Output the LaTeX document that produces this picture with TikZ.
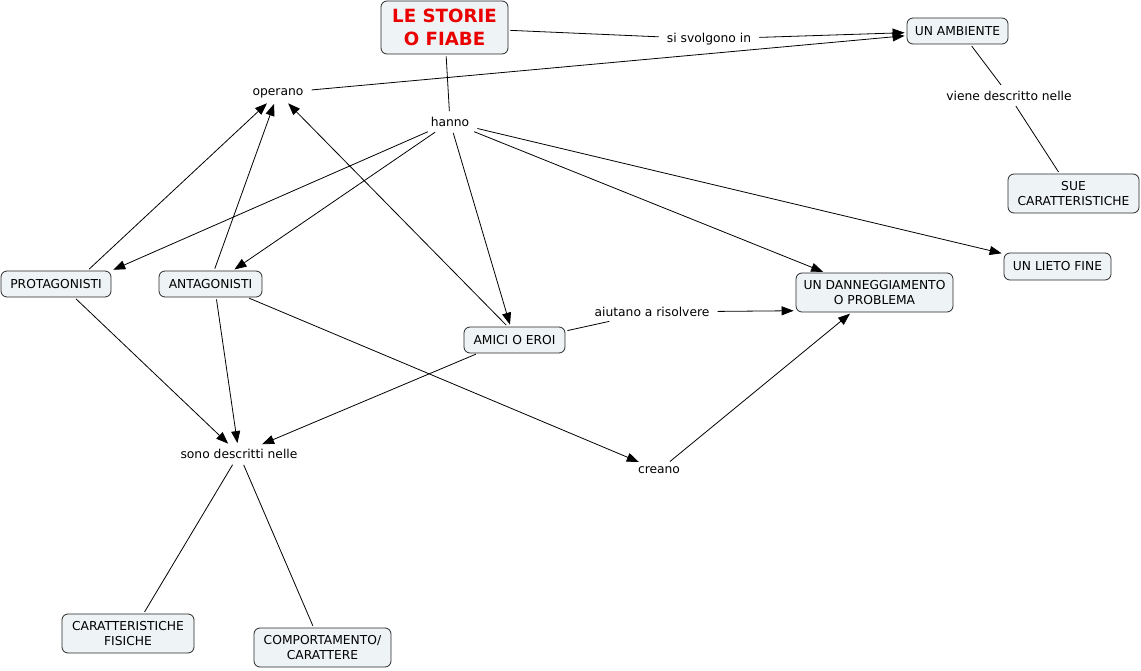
\documentclass[tikz,border=0pt]{standalone}
\usepackage{fontspec}
\setmainfont{DejaVu Sans}
\usetikzlibrary{arrows.meta}
\definecolor{boxfill}{RGB}{238,243,246}
\definecolor{titlered}{RGB}{235,0,0}
\definecolor{edge}{RGB}{40,40,40}
\begin{document}
\begin{tikzpicture}[x=1pt,y=-1pt,
  font=\fontsize{12.3}{15}\selectfont,
  concept/.style={draw=edge, fill=boxfill, rounded corners=6pt, line width=0.8pt, align=center, inner sep=0pt},
  lbl/.style={inner xsep=6pt, inner ysep=4pt, align=center},
  con/.style={line width=0.8pt, draw=black, shorten <=2pt, shorten >=2pt},
  arr/.style={con, -{Triangle[length=12pt,width=9pt]}}]
\useasboundingbox (0,0) rectangle (1141,671);

% concept boxes
\node[concept, minimum width=127pt, minimum height=53pt, font=\fontsize{18.2}{23}\bfseries\selectfont, text=titlered] (title) at (444.5,27.5) {LE STORIE\\O FIABE};
\node[concept, minimum width=101pt, minimum height=26pt] (amb) at (957.5,31) {UN AMBIENTE};
\node[concept, minimum width=131pt, minimum height=39pt] (sue) at (1073.5,193.5) {SUE\\CARATTERISTICHE};
\node[concept, minimum width=107pt, minimum height=27pt] (lieto) at (1057.5,266.5) {UN LIETO FINE};
\node[concept, minimum width=157pt, minimum height=39pt] (danneg) at (874.5,292.5) {UN DANNEGGIAMENTO\\O PROBLEMA};
\node[concept, minimum width=101pt, minimum height=26pt] (amici) at (514.5,340) {AMICI O EROI};
\node[concept, minimum width=110pt, minimum height=26pt] (prot) at (56,284) {PROTAGONISTI};
\node[concept, minimum width=103pt, minimum height=26pt] (ant) at (210.5,284) {ANTAGONISTI};
\node[concept, minimum width=132pt, minimum height=39pt] (carfis) at (128,633.5) {CARATTERISTICHE\\FISICHE};
\node[concept, minimum width=137pt, minimum height=39pt] (comport) at (322.5,647.5) {COMPORTAMENTO/\\CARATTERE};

% linking phrases
\node[lbl] (si) at (709,39) {si svolgono in};
\node[lbl] (operano) at (278,93) {operano};
\node[lbl] (hanno) at (450,122) {hanno};
\node[lbl] (viene) at (1009,95.5) {viene descritto nelle};
\node[lbl] (aiutano) at (652,312) {aiutano a risolvere};
\node[lbl] (sono) at (239,454) {sono descritti nelle};
\node[lbl] (creano) at (659,470.5) {creano};

% connectors
\draw[con] (title) -- (si);
\draw[arr] (si) -- (amb);
\draw[arr] (operano) -- (amb);
\draw[con] (title) -- (hanno);
\draw[arr] (hanno) -- (prot.north east);
\draw[arr] (hanno) -- (ant.31);
\draw[arr] (hanno) -- (amici);
\draw[arr] (hanno) -- (danneg);
\draw[arr] (hanno) -- (lieto);
\draw[arr] (prot.23) -- (operano);
\draw[arr] (ant.75) -- (operano);
\draw[arr] (amici.117) -- (operano);
\draw[con] (amici.10) -- (aiutano);
\draw[arr] (aiutano) -- (danneg.193);
\draw[arr] (prot.-36) -- (sono);
\draw[arr] (ant.-67) -- (sono);
\draw[arr] (amici.200) -- (sono);
\draw[arr] (ant.-20) -- (creano);
\draw[arr] (creano) -- (danneg.-139);
\draw[con] (sono) -- (carfis.52);
\draw[con] (sono) -- (comport.114);
\draw[con] (amb.-46) -- (viene);
\draw[con] (viene) -- (sue.125);
\end{tikzpicture}
\end{document}
